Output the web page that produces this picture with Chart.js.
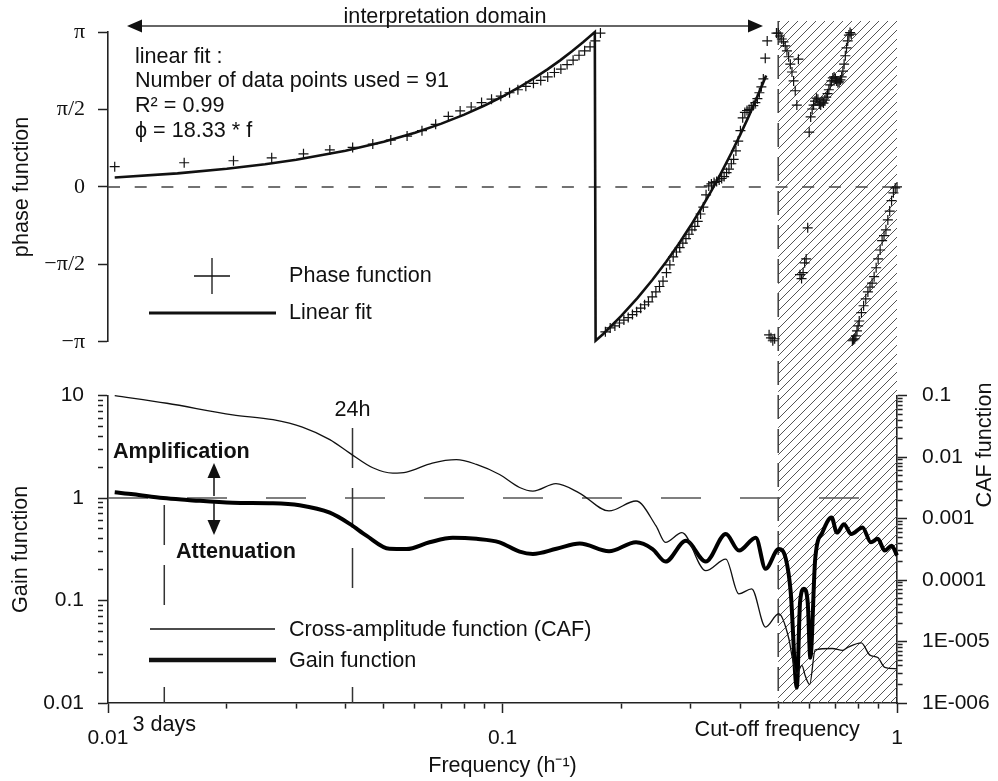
<!DOCTYPE html>
<html>
<head>
<meta charset="utf-8">
<title>Phase and gain functions</title>
<script src="https://cdn.jsdelivr.net/npm/chart.js@4.4.1/dist/chart.umd.min.js"></script>
<style>
  body { margin: 0; background: #fff; }
  #wrap { position: relative; width: 998px; height: 781px; background: #fff; }
  canvas { position: absolute; left: 0; }
  #phaseChart { top: 0; }
  #gainChart { top: 368px; }
</style>
</head>
<body>
<div id="wrap">
  <canvas id="phaseChart" width="998" height="368"></canvas>
  <canvas id="gainChart" width="998" height="413"></canvas>
</div>
<script>
const SANS = "'Liberation Sans', Arial, sans-serif";
const SERIF = "'Liberation Serif', 'Times New Roman', serif";
const INK = '#111';
const PI = Math.PI;

// phase function (rad) at the spectral frequencies (h-1)
const phaseFreq = [
  0.0104, 0.0156, 0.0208, 0.0260, 0.0313, 0.0365, 0.0417, 0.0469, 0.0521, 0.0573,
  0.0625, 0.0677, 0.0729, 0.0781, 0.0833, 0.0885, 0.0938, 0.0990, 0.1042, 0.1094,
  0.1146, 0.1198, 0.1250, 0.1302, 0.1354, 0.1406, 0.1458, 0.1510, 0.1563, 0.1615,
  0.1667, 0.1719, 0.1771, 0.1823, 0.1875, 0.1927, 0.1979, 0.2031, 0.2083, 0.2135,
  0.2188, 0.2240, 0.2292, 0.2344, 0.2396, 0.2448, 0.2500, 0.2552, 0.2604, 0.2656,
  0.2708, 0.2760, 0.2813, 0.2865, 0.2917, 0.2969, 0.3021, 0.3073, 0.3125, 0.3177,
  0.3229, 0.3281, 0.3333, 0.3385, 0.3438, 0.3490, 0.3542, 0.3594, 0.3646, 0.3698,
  0.3750, 0.3802, 0.3854, 0.3906, 0.3958, 0.4010, 0.4063, 0.4115, 0.4167, 0.4219,
  0.4271, 0.4323, 0.4375, 0.4427, 0.4479, 0.4531, 0.4583, 0.4635, 0.4688, 0.4740,
  0.4792, 0.4844, 0.4896, 0.4948, 0.5000, 0.5052, 0.5104, 0.5156, 0.5208, 0.5260,
  0.5313, 0.5365, 0.5417, 0.5469, 0.5521, 0.5573, 0.5625, 0.5677, 0.5729, 0.5781,
  0.5833, 0.5885, 0.5938, 0.5990, 0.6042, 0.6094, 0.6146, 0.6198, 0.6250, 0.6302,
  0.6354, 0.6406, 0.6458, 0.6510, 0.6563, 0.6615, 0.6667, 0.6719, 0.6771, 0.6823,
  0.6875, 0.6927, 0.6979, 0.7031, 0.7083, 0.7135, 0.7188, 0.7240, 0.7292, 0.7344,
  0.7396, 0.7448, 0.7500, 0.7552, 0.7604, 0.7656, 0.7708, 0.7760, 0.7813, 0.7865,
  0.7917, 0.7969, 0.8021, 0.8125, 0.8229, 0.8333, 0.8438, 0.8542, 0.8646, 0.8750,
  0.8854, 0.8958, 0.9063, 0.9167, 0.9271, 0.9375, 0.9479, 0.9583, 0.9688, 0.9792,
  0.9896, 1.0000
];
const phaseVal = [
  0.41, 0.49, 0.53, 0.59, 0.67, 0.75, 0.80, 0.87, 0.95, 1.03,
  1.14, 1.27, 1.43, 1.54, 1.62, 1.71, 1.78, 1.84, 1.91, 1.97,
  2.04, 2.10, 2.16, 2.23, 2.32, 2.39, 2.48, 2.57, 2.67, 2.76,
  2.84, 2.96, 3.12, -2.94, -2.86, -2.82, -2.76, -2.70, -2.65, -2.59,
  -2.53, -2.46, -2.39, -2.33, -2.23, -2.13, -2.02, -1.91, -1.74, -1.58,
  -1.42, -1.32, -1.23, -1.14, -1.05, -0.96, -0.87, -0.80, -0.70, -0.55,
  -0.41, -0.16, 0.02, 0.06, 0.09, 0.11, 0.14, 0.17, 0.21, 0.29,
  0.36, 0.47, 0.56, 0.73, 0.93, 1.14, 1.40, 1.51, 1.55, 1.57,
  1.60, 1.65, 1.71, 1.79, 1.91, 2.03, 2.19, 2.61, 2.96, -3.00,
  -3.06, -3.12, -3.08, 3.12, 3.12, 3.06, 3.00, 2.94, 2.86, 2.76,
  2.64, 2.49, 2.33, 2.15, 1.95, 1.66, 2.59, -1.78, -1.86, -1.74,
  -1.54, -1.46, -0.83, 1.11, 1.42, 1.58, 1.66, 1.74, 1.80, 1.78,
  1.68, 1.66, 1.72, 1.70, 1.76, 1.82, 1.89, 1.97, 2.07, 2.15,
  2.21, 2.23, 2.19, 2.15, 2.11, 2.13, 2.17, 2.23, 2.35, 2.49,
  2.66, 2.82, 2.96, 3.08, 3.13, 3.10, -3.12, -3.10, -3.08, -3.02,
  -2.92, -2.82, -2.72, -2.55, -2.41, -2.27, -2.13, -2.03, -1.95, -1.82,
  -1.64, -1.46, -1.28, -1.09, -0.99, -0.87, -0.67, -0.49, -0.28, -0.12,
  -0.02, 0.00
];

// linear fit, wrapped to [-pi, pi]
const fitFreq = [0.0104, 0.015, 0.02, 0.025, 0.03, 0.04, 0.05, 0.06, 0.07, 0.08, 0.09, 0.1,
  0.11, 0.12, 0.13, 0.14, 0.15, 0.16, 0.1714, 0.1722, 0.18, 0.2, 0.22, 0.24, 0.26, 0.28,
  0.3, 0.32, 0.34, 0.36, 0.38, 0.4, 0.42, 0.44, 0.466];
const fitVal = [0.19, 0.275, 0.367, 0.458, 0.55, 0.733, 0.917, 1.10, 1.283, 1.466, 1.65, 1.833,
  2.016, 2.20, 2.383, 2.566, 2.75, 2.933, 3.14, -3.12, -2.984, -2.617, -2.25, -1.884, -1.517, -1.151,
  -0.784, -0.418, -0.051, 0.316, 0.682, 1.049, 1.415, 1.782, 2.259];

// gain function (left axis)
const gainFreq = [0.0104, 0.0116, 0.0138, 0.0159, 0.0207, 0.0262, 0.0306, 0.0365, 0.0410, 0.0452,
  0.0517, 0.0571, 0.0653, 0.0748, 0.0859, 0.0983, 0.1105, 0.1194, 0.1370, 0.1570,
  0.1862, 0.2180, 0.2401, 0.2590, 0.2918, 0.3275, 0.3682, 0.3977, 0.4385, 0.4643,
  0.5016, 0.5227, 0.5377, 0.5573, 0.5680, 0.5809, 0.5937, 0.6030, 0.6204, 0.6468,
  0.6826, 0.7042, 0.7341, 0.7653, 0.8176, 0.8585, 0.8939, 0.9310, 0.9695, 1.0];
const gainVal = [1.14, 1.09, 1.00, 0.96, 0.90, 0.89, 0.85, 0.72, 0.56, 0.43,
  0.32, 0.318, 0.37, 0.41, 0.40, 0.37, 0.30, 0.285, 0.32, 0.36,
  0.302, 0.37, 0.318, 0.24, 0.383, 0.24, 0.445, 0.307, 0.41, 0.204,
  0.318, 0.255, 0.121, 0.0141, 0.097, 0.13, 0.097, 0.0276, 0.255, 0.46,
  0.645, 0.46, 0.556, 0.445, 0.516, 0.37, 0.40, 0.307, 0.343, 0.275];

// cross-amplitude function (right axis)
const cafFreq = [0.0104, 0.0141, 0.0207, 0.0262, 0.0311, 0.0365, 0.0410, 0.0469, 0.0527, 0.0571,
  0.0664, 0.0764, 0.0859, 0.0983, 0.1105, 0.1194, 0.1366, 0.1567, 0.1862, 0.2180,
  0.2450, 0.2590, 0.2850, 0.3275, 0.3682, 0.3971, 0.4282, 0.4642, 0.5014, 0.5320,
  0.5426, 0.5573, 0.5740, 0.5850, 0.6006, 0.6204, 0.6850, 0.7280, 0.7520, 0.8119,
  0.8536, 0.8939, 0.9311, 1.0];
const cafVal = [0.100, 0.0751, 0.0487, 0.0405, 0.0307, 0.0192, 0.0116, 0.0067, 0.0055, 0.0057,
  0.0080, 0.0091, 0.0076, 0.0052, 0.0032, 0.0028, 0.0037, 0.0026, 0.00133, 0.00193,
  0.00076, 0.00041, 0.00059, 0.000142, 0.000219, 0.0000596, 0.000072, 0.0000172, 0.0000283, 0.0000111,
  0.0000055, 0.0000030, 0.0000041, 0.0000028, 0.0000020, 0.0000073, 0.0000077, 0.0000072, 0.0000081, 0.0000095,
  0.0000060, 0.0000055, 0.0000038, 0.0000036];

const phaseTickValues = [-PI, -PI / 2, 0, PI / 2, PI];
const phaseTickLabels = ['\u2212\u03c0', '\u2212\u03c0/2', '0', '\u03c0/2', '\u03c0'];
const freqTickValues = [0.01, 0.1, 1];
const freqTickLabels = ['0.01', '0.1', '1'];
const gainTickValues = [0.01, 0.1, 1, 10];
const gainTickLabels = ['0.01', '0.1', '1', '10'];
const cafTickValues = [1e-6, 1e-5, 1e-4, 1e-3, 0.01, 0.1];
const cafTickLabels = ['1E-006', '1E-005', '0.0001', '0.001', '0.01', '0.1'];

const cutoffFreq = 0.5;
const periodFreq = [1 / 72, 1 / 24];
const periodLabels = ['3 days', '24h'];

// page offsets of the two canvases
const TOP_Y = 0;
const BOT_Y = 368;
const NOTE = 21.6; // annotation font size

Chart.defaults.font.family = SANS;
Chart.defaults.color = INK;

function pts(xs, ys) {
    return xs.map((x, i) => ({ x: x, y: ys[i] }));
}

function findTick(values, v) {
    return values.findIndex(t => Math.abs(Math.log10(t) - Math.log10(v)) < 1e-6);
}

function logTicks(min, max) {
    const out = [];
    for (let e = Math.round(Math.log10(min)); e <= Math.round(Math.log10(max)); e++) {
        for (let m = 1; m <= 9; m++) {
            const v = Number((m * Math.pow(10, e)).toPrecision(6));
            if (v >= min * 0.9999 && v <= max * 1.0001) out.push({ value: v });
        }
    }
    return out;
}

function logAxis(values, labels, position, pad) {
    return {
        type: 'logarithmic',
        position: position,
        min: values[0],
        max: values[values.length - 1],
        afterBuildTicks: s => { s.ticks = logTicks(s.min, s.max); },
        ticks: {
            autoSkip: false, maxRotation: 0, padding: pad, color: INK,
            font: { family: SANS, size: 21 },
            callback: v => { const i = findTick(values, v); return i >= 0 ? labels[i] : ''; }
        },
        grid: {
            drawOnChartArea: false, tickLength: 10, tickColor: '#222', tickWidth: 1.5,
            tickBorderDash: c => (c.tick && findTick(values, c.tick.value) < 0) ? [5, 30] : []
        },
        border: { color: '#222', width: 1.6 }
    };
}

function hatch(ctx, x0, x1, y0, y1, off) {
    const step = 9;
    ctx.save();
    ctx.beginPath();
    ctx.rect(x0, y0, x1 - x0, y1 - y0);
    ctx.clip();
    ctx.strokeStyle = '#555';
    ctx.lineWidth = 1;
    ctx.beginPath();
    const cMin = Math.floor((x0 + y0 + off) / step) * step;
    for (let c = cMin; c <= x1 + y1 + off + step; c += step) {
        ctx.moveTo(c - off - y1, y1);
        ctx.lineTo(c - off - y0, y0);
    }
    ctx.stroke();
    ctx.restore();
}

function dashLine(ctx, x0, y0, x1, y1, dash, offset, color, width) {
    ctx.save();
    ctx.strokeStyle = color;
    ctx.lineWidth = width;
    ctx.setLineDash(dash);
    ctx.lineDashOffset = offset;
    ctx.beginPath();
    ctx.moveTo(x0, y0);
    ctx.lineTo(x1, y1);
    ctx.stroke();
    ctx.restore();
}

function line(ctx, x0, y0, x1, y1, width, color) {
    ctx.save();
    ctx.strokeStyle = color || INK;
    ctx.lineWidth = width;
    ctx.beginPath();
    ctx.moveTo(x0, y0);
    ctx.lineTo(x1, y1);
    ctx.stroke();
    ctx.restore();
}

function arrowHead(ctx, tx, ty, dx, dy) {
    const len = 15, half = 6.5;
    const bx = tx - dx * len, by = ty - dy * len;
    ctx.save();
    ctx.fillStyle = INK;
    ctx.beginPath();
    ctx.moveTo(tx, ty);
    ctx.lineTo(bx - dy * half, by + dx * half);
    ctx.lineTo(bx + dy * half, by - dx * half);
    ctx.closePath();
    ctx.fill();
    ctx.restore();
}

function text(ctx, s, x, y, opt) {
    opt = opt || {};
    ctx.save();
    ctx.fillStyle = INK;
    ctx.font = (opt.bold ? 'bold ' : '') + (opt.size || NOTE) + 'px ' + SANS;
    ctx.textAlign = opt.align || 'left';
    ctx.textBaseline = opt.baseline || 'middle';
    ctx.translate(x, y);
    if (opt.rotate) ctx.rotate(opt.rotate);
    ctx.fillText(s, 0, 0);
    ctx.restore();
}

const phaseDecor = {
    id: 'phaseDecor',
    beforeDatasetsDraw(chart) {
        const { ctx, scales: { x, y } } = chart;
        const cx = x.getPixelForValue(cutoffFreq);
        const rx = x.getPixelForValue(1);
        hatch(ctx, cx, rx, 21 - TOP_Y, chart.height, TOP_Y);
        dashLine(ctx, cx, 21 - TOP_Y, cx, chart.height, [24, 10], 0, '#444', 1.6);
        const y0 = y.getPixelForValue(0);
        dashLine(ctx, x.left, y0, x.right, y0, [12, 14.7], 0, '#444', 1.5);
    },
    afterDraw(chart) {
        const ctx = chart.ctx;
        // interpretation domain
        line(ctx, 138, 26, 752, 26, 1.5, '#333');
        arrowHead(ctx, 127, 26, -1, 0);
        arrowHead(ctx, 763, 26, 1, 0);
        text(ctx, 'interpretation domain', 445, 23, { align: 'center', baseline: 'alphabetic' });

        // fit summary
        text(ctx, 'linear fit :', 135, 57);
        text(ctx, 'Number of data points used = 91', 135, 81);
        text(ctx, 'R\u00b2 = 0.99', 135, 106);
        text(ctx, '\u03d5 = 18.33 * f', 135, 131);

        // legend
        line(ctx, 194, 276, 230, 276, 1.3);
        line(ctx, 212, 258, 212, 294, 1.3);
        text(ctx, 'Phase function', 289, 276);
        line(ctx, 149, 313, 276, 313, 3);
        text(ctx, 'Linear fit', 289, 313);
    }
};

const gainDecor = {
    id: 'gainDecor',
    beforeDatasetsDraw(chart) {
        const { ctx, chartArea, scales: { x, yGain } } = chart;
        const cx = x.getPixelForValue(cutoffFreq);
        const rx = x.getPixelForValue(1);
        hatch(ctx, cx, rx, 0, chartArea.bottom, BOT_Y);
        dashLine(ctx, cx, 0, cx, chartArea.bottom, [24, 10], BOT_Y - 21, '#444', 1.6);
        const y1 = yGain.getPixelForValue(1);
        dashLine(ctx, x.left, y1, x.right, y1, [40, 39], 0, '#555', 1.5);
        const p3 = x.getPixelForValue(periodFreq[0]);
        const p1 = x.getPixelForValue(periodFreq[1]);
        dashLine(ctx, p3, 505 - BOT_Y, p3, chartArea.bottom, [40, 20], 0, '#333', 1.5);
        dashLine(ctx, p1, 428 - BOT_Y, p1, chartArea.bottom, [40, 20], 0, '#333', 1.5);
    },
    afterDatasetsDraw(chart) {
        const ctx = chart.ctx;
        // legend box
        ctx.save();
        ctx.fillStyle = '#fff';
        ctx.fillRect(140, 607 - BOT_Y, 480, 80);
        ctx.restore();
        line(ctx, 150, 629 - BOT_Y, 275, 629 - BOT_Y, 1.3);
        text(ctx, 'Cross-amplitude function (CAF)', 289, 630 - BOT_Y);
        line(ctx, 149, 660 - BOT_Y, 276, 660 - BOT_Y, 4.5);
        text(ctx, 'Gain function', 289, 661 - BOT_Y);
    },
    afterDraw(chart) {
        const { ctx, scales: { x } } = chart;
        const p3 = x.getPixelForValue(periodFreq[0]);
        const p1 = x.getPixelForValue(periodFreq[1]);
        const cx = x.getPixelForValue(cutoffFreq);

        text(ctx, 'Amplification', 113, 452 - BOT_Y, { bold: true });
        line(ctx, 214, 496 - BOT_Y, 214, 476 - BOT_Y, 1.5);
        arrowHead(ctx, 214, 463 - BOT_Y, 0, -1);
        line(ctx, 214, 503 - BOT_Y, 214, 522 - BOT_Y, 1.5);
        arrowHead(ctx, 214, 535 - BOT_Y, 0, 1);
        text(ctx, 'Attenuation', 176, 552 - BOT_Y, { bold: true });

        text(ctx, periodLabels[1], p1, 410 - BOT_Y, { align: 'center' });
        text(ctx, periodLabels[0], p3, 725 - BOT_Y, { align: 'center' });
        text(ctx, 'Cut-off frequency', cx - 1, 730 - BOT_Y, { align: 'center' });

        text(ctx, 'CAF function', 985, 445 - BOT_Y, { align: 'center', rotate: -PI / 2 });
    }
};

// phase chart (top)
new Chart(document.getElementById('phaseChart'), {
    type: 'scatter',
    data: {
        datasets: [
            {
                label: 'Phase function',
                data: pts(phaseFreq, phaseVal),
                pointStyle: 'cross',
                pointRadius: 5,
                pointBorderWidth: 1.2,
                borderColor: INK,
                showLine: false,
                clip: false
            },
            {
                label: 'Linear fit',
                data: pts(fitFreq, fitVal),
                showLine: true,
                pointRadius: 0,
                borderColor: INK,
                borderWidth: 2.6,
                tension: 0,
                clip: false
            }
        ]
    },
    options: {
        responsive: false,
        animation: false,
        events: [],
        layout: { padding: { top: 32, bottom: 26, left: 0, right: 101 } },
        plugins: { legend: { display: false }, tooltip: { enabled: false } },
        scales: {
            x: { type: 'logarithmic', min: 0.01, max: 1, display: false },
            y: {
                min: -PI,
                max: PI,
                afterBuildTicks: s => { s.ticks = phaseTickValues.map(v => ({ value: v })); },
                afterFit: s => { s.width = 108; },
                ticks: {
                    padding: 13,
                    color: INK,
                    font: { family: SERIF, size: 22 },
                    callback: (v, i) => phaseTickLabels[i]
                },
                grid: { drawOnChartArea: false, tickLength: 10, tickColor: '#222', tickWidth: 1.5 },
                border: { color: '#222', width: 1.6 },
                title: {
                    display: true, text: 'phase function', color: INK,
                    font: { family: SANS, size: NOTE }, padding: { top: 9, bottom: 0 }
                }
            }
        }
    },
    plugins: [phaseDecor]
});

// gain / CAF chart (bottom)
const xAxis = logAxis(freqTickValues, freqTickLabels, 'bottom', 13);
xAxis.afterFit = s => { s.height = 78; };
xAxis.title = {
    display: true, text: 'Frequency (h\u207b\u00b9)', color: INK,
    font: { family: SANS, size: NOTE }, padding: { top: 4, bottom: 2 }
};
const gainAxis = logAxis(gainTickValues, gainTickLabels, 'left', 14);
gainAxis.afterFit = s => { s.width = 108; };
gainAxis.title = {
    display: true, text: 'Gain function', color: INK,
    font: { family: SANS, size: NOTE }, padding: { top: 8, bottom: 0 }
};
const cafAxis = logAxis(cafTickValues, cafTickLabels, 'right', 15);
cafAxis.afterFit = s => { s.width = 101; };

new Chart(document.getElementById('gainChart'), {
    type: 'line',
    data: {
        datasets: [
            {
                label: 'Cross-amplitude function (CAF)',
                data: pts(cafFreq, cafVal),
                yAxisID: 'yCaf',
                borderColor: INK,
                borderWidth: 1.3,
                pointRadius: 0,
                cubicInterpolationMode: 'monotone',
                clip: false
            },
            {
                label: 'Gain function',
                data: pts(gainFreq, gainVal),
                yAxisID: 'yGain',
                borderColor: '#000',
                borderWidth: 4,
                pointRadius: 0,
                cubicInterpolationMode: 'monotone',
                clip: false
            }
        ]
    },
    options: {
        responsive: false,
        animation: false,
        events: [],
        layout: { padding: { top: 25, bottom: 0, left: 0, right: 0 } },
        plugins: { legend: { display: false }, tooltip: { enabled: false } },
        scales: { x: xAxis, yGain: gainAxis, yCaf: cafAxis }
    },
    plugins: [gainDecor]
});
</script>
</body>
</html>
